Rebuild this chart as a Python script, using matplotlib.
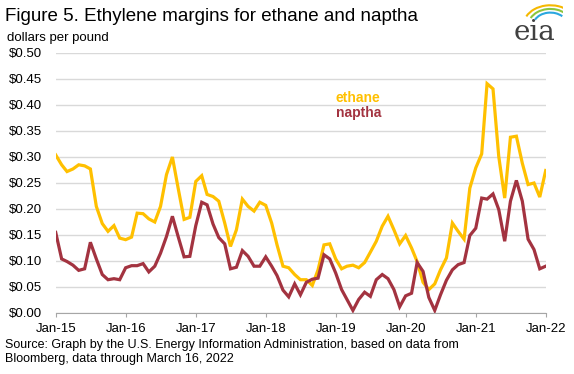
import matplotlib.pyplot as plt
import matplotlib.dates as mdates
import matplotlib.ticker as mticker
from matplotlib.patches import Arc
import pandas as pd

months = pd.date_range('2015-01-01', '2022-01-01', freq='MS')

ethane = [0.304, 0.285, 0.272, 0.277, 0.285, 0.283, 0.277, 0.205, 0.172, 0.157, 0.168, 0.144,
          0.141, 0.146, 0.192, 0.191, 0.181, 0.175, 0.205, 0.266, 0.300, 0.240, 0.180, 0.184,
          0.253, 0.264, 0.228, 0.224, 0.215, 0.173, 0.128, 0.160, 0.219, 0.205, 0.196, 0.213,
          0.207, 0.173, 0.131, 0.090, 0.087, 0.074, 0.064, 0.064, 0.053, 0.083, 0.131, 0.133,
          0.104, 0.085, 0.090, 0.092, 0.087, 0.097, 0.117, 0.138, 0.167, 0.186, 0.160, 0.133,
          0.149, 0.125, 0.099, 0.059, 0.045, 0.056, 0.083, 0.106, 0.173, 0.157, 0.142, 0.240,
          0.279, 0.306, 0.441, 0.431, 0.301, 0.221, 0.338, 0.340, 0.288, 0.247, 0.250, 0.223,
          0.274]
naptha = [0.155, 0.104, 0.099, 0.092, 0.082, 0.085, 0.136, 0.104, 0.074, 0.064, 0.066, 0.064,
          0.087, 0.091, 0.091, 0.095, 0.079, 0.090, 0.115, 0.147, 0.186, 0.147, 0.108, 0.109,
          0.168, 0.213, 0.208, 0.171, 0.145, 0.133, 0.085, 0.088, 0.120, 0.109, 0.090, 0.090,
          0.108, 0.090, 0.072, 0.044, 0.031, 0.056, 0.035, 0.059, 0.065, 0.067, 0.112, 0.104,
          0.077, 0.045, 0.026, 0.005, 0.026, 0.040, 0.032, 0.064, 0.074, 0.066, 0.045, 0.012,
          0.033, 0.038, 0.097, 0.080, 0.030, 0.005, 0.035, 0.063, 0.083, 0.093, 0.097, 0.149,
          0.163, 0.221, 0.219, 0.229, 0.199, 0.138, 0.215, 0.255, 0.215, 0.142, 0.122, 0.085,
          0.090]

yticks = [0.0, 0.05, 0.10, 0.15, 0.20, 0.25, 0.30, 0.35, 0.40, 0.45, 0.50]

c_eth = '#FFC000'
c_nap = '#A33340'

plt.rcParams['font.family'] = ['Liberation Sans', 'DejaVu Sans']

fig = plt.figure(figsize=(5.74, 3.74), dpi=100)
ax = fig.add_axes([55.7 / 574, 61 / 374, 490 / 574, 260 / 374])

ax.plot(months, ethane, color=c_eth, lw=2.3, solid_joinstyle='miter')
ax.plot(months, naptha, color=c_nap, lw=2.3, solid_joinstyle='miter')

ax.set_xlim(months[0], months[-1])
ax.set_ylim(0, 0.5)
ax.set_yticks(yticks)
ax.yaxis.set_major_formatter(mticker.FuncFormatter(lambda v, p: '$%.2f' % v))
ax.xaxis.set_major_locator(mdates.YearLocator())
ax.xaxis.set_major_formatter(mdates.DateFormatter('%b-%y'))
ax.grid(axis='y', color='#D9D9D9', lw=1)
ax.set_axisbelow(True)
for s in ['top', 'right', 'left']:
    ax.spines[s].set_visible(False)
ax.spines['bottom'].set_color('#A6A6A6')
ax.tick_params(axis='y', length=0, labelsize=9.5, pad=10)
ax.tick_params(axis='x', length=3, color='#A6A6A6', labelsize=9.5, pad=4)

ax.text(months[48], 0.414, 'ethane', color=c_eth, fontsize=10, fontweight='bold', va='center')
ax.text(months[48], 0.385, 'naptha', color=c_nap, fontsize=10, fontweight='bold', va='center')

fig.text(0.008, 0.955, 'Figure 5. Ethylene margins for ethane and naptha', fontsize=13.5, va='center')
fig.text(0.013, 0.898, 'dollars per pound', fontsize=9.5, va='center')
fig.text(0.008, 0.093, 'Source: Graph by the U.S. Energy Information Administration, based on data from\n'
         'Bloomberg, data through March 16, 2022', fontsize=9, va='top', linespacing=1.15)

# eia logo
fig.text(0.895, 0.912, 'eia', fontsize=20, family='DejaVu Serif', color='#404040', va='center')
lax = fig.add_axes([0.895, 0.925, 0.085, 0.07])
lax.set_xlim(0, 1)
lax.set_ylim(0, 1)
lax.axis('off')
for r, col in zip([0.55, 0.45, 0.35], ['#F5B800', '#8CC63F', '#2AA7DF']):
    lax.add_patch(Arc((0.75, 0.1), 2 * r, 2 * r * 1.4, theta1=55, theta2=145, color=col, lw=1.5))

fig.savefig('out.png', dpi=100)
